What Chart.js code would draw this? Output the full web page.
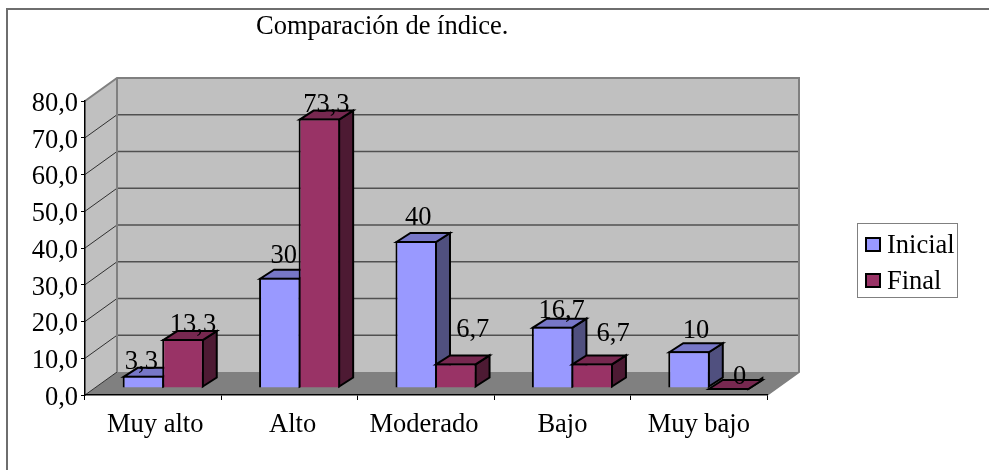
<!DOCTYPE html>
<html lang="es">
<head>
<meta charset="utf-8">
<title>Comparación de índice.</title>
<script src="https://cdn.jsdelivr.net/npm/chart.js@4"></script>
<style>
  html, body { margin: 0; padding: 0; background: #ffffff; }
  canvas { display: block; }
</style>
</head>
<body>
<canvas id="indexChart" width="989" height="470"></canvas>
<script>
const categories = ["Muy alto", "Alto", "Moderado", "Bajo", "Muy bajo"];
const inicialValues = [3.3, 30, 40, 16.7, 10];
const finalValues = [13.3, 73.3, 6.7, 6.7, 0];
const yTickLabels = ["0,0", "10,0", "20,0", "30,0", "40,0", "50,0", "60,0", "70,0", "80,0"];
const chartTitle = "Comparación de índice.";

const fontFamily = "'Liberation Serif', 'Times New Roman', serif";
const fontSize = 26.5;
const textFont = `${fontSize}px ${fontFamily}`;

// the fake 3D look: how far the back wall and the bars are pushed
const wallDepth = { x: 32, y: 23 };
const barShift = { x: 10, y: 7 };
const barDepth = { x: 14, y: 9 };

const seriesShades = [
  { top: "#7777c7", side: "#50507f" },
  { top: "#772850", side: "#4d1a33" }
];

// data labels were moved by hand in the original, so each one has its own nudge
const labelNudges = [
  [[-9, -7], [-3, -15], [-5, -16], [2, -9], [0, -13]],
  [[3, -7], [0, -7], [10, -26], [14, -22], [4, -4]]
];
const xLabelNudges = [2, 3, -2, 0, 0];
const yLabelDrop = 3;

const formatValue = value => String(value).replace(".", ",");

function line(ctx, points, color, width) {
  ctx.beginPath();
  points.forEach(([x, y], i) => i ? ctx.lineTo(x, y) : ctx.moveTo(x, y));
  ctx.strokeStyle = color;
  ctx.lineWidth = width;
  ctx.stroke();
}

function polygon(ctx, points, fill, stroke, width) {
  ctx.beginPath();
  points.forEach(([x, y], i) => i ? ctx.lineTo(x, y) : ctx.moveTo(x, y));
  ctx.closePath();
  ctx.fillStyle = fill;
  ctx.fill();
  if (stroke) {
    ctx.strokeStyle = stroke;
    ctx.lineWidth = width;
    ctx.lineJoin = "miter";
    ctx.stroke();
  }
}

const box3dPlugin = {
  id: "box3d",
  afterLayout(chart) {
    // title sits left of the plot centre in the original
    chart.titleBlock.left = 256;
    chart.titleBlock.right = 520;
    chart.scales.y.getLabelItems().forEach(item => { item.options.translation[1] += yLabelDrop; });
    chart.scales.x.getLabelItems().forEach((item, i) => { item.options.translation[0] += xLabelNudges[i]; });
  },
  beforeDraw(chart) {
    const { ctx, chartArea: area, scales } = chart;
    const dx = wallDepth.x;
    const dy = wallDepth.y;
    ctx.save();

    // sheet edges, only top and left are visible
    line(ctx, [[989, 9], [7, 9], [7, 470]], "#6e6e6e", 2);

    polygon(ctx, [[area.left + dx, area.top - dy], [area.right + dx, area.top - dy],
      [area.right + dx, area.bottom - dy], [area.left + dx, area.bottom - dy]], "#c0c0c0");
    polygon(ctx, [[area.left, area.top], [area.left + dx, area.top - dy],
      [area.left + dx, area.bottom - dy], [area.left, area.bottom]], "#c0c0c0");
    polygon(ctx, [[area.left, area.bottom], [area.left + dx, area.bottom - dy],
      [area.right + dx, area.bottom - dy], [area.right, area.bottom]], "#808080");

    scales.y.ticks.forEach(tick => {
      const y = scales.y.getPixelForValue(tick.value);
      if (tick.value > 0 && tick.value < 80) {
        line(ctx, [[area.left + dx, y - dy], [area.right + dx, y - dy]], "#505050", 1.5);
      }
      if (tick.value < 80) {
        line(ctx, [[area.left, y], [area.left + dx, y - dy]], "#303030", 1);
      }
    });

    line(ctx, [[area.left, area.top], [area.left + dx, area.top - dy], [area.right + dx, area.top - dy],
      [area.right + dx, area.bottom - dy], [area.right, area.bottom]], "#808080", 2);
    line(ctx, [[area.left + dx, area.top - dy], [area.left + dx, area.bottom - dy]], "#808080", 2);
    ctx.restore();
  },
  beforeDatasetsDraw(chart) {
    const { ctx } = chart;
    ctx.save();
    ctx.translate(barShift.x, -barShift.y);

    // Inicial first, so Final covers its side face and its label
    chart.data.datasets.forEach((dataset, datasetIndex) => {
      const bars = chart.getDatasetMeta(datasetIndex).data;
      bars.forEach(bar => {
        const left = bar.x - bar.width / 2 + 1;
        const right = bar.x + bar.width / 2 - 1;
        const top = bar.y + 1;
        const bottom = bar.base - 1;
        const shade = seriesShades[datasetIndex];
        polygon(ctx, [[right, top], [right + barDepth.x, top - barDepth.y],
          [right + barDepth.x, bottom - barDepth.y], [right, bottom]], shade.side, "#000000", 2);
        polygon(ctx, [[left, top], [left + barDepth.x, top - barDepth.y],
          [right + barDepth.x, top - barDepth.y], [right, top]], shade.top, "#000000", 2);
        bar.draw(ctx);
      });
      bars.forEach((bar, i) => {
        const [nudgeX, nudgeY] = labelNudges[datasetIndex][i];
        ctx.font = textFont;
        ctx.fillStyle = "#000000";
        ctx.textAlign = "center";
        ctx.textBaseline = "alphabetic";
        ctx.fillText(formatValue(dataset.data[i]), bar.x + barDepth.x / 2 + nudgeX, bar.y + nudgeY);
      });
    });

    ctx.restore();
    return false;
  },
  afterDraw(chart) {
    const { ctx } = chart;
    ctx.save();
    ctx.strokeStyle = "#808080";
    ctx.lineWidth = 1;
    ctx.strokeRect(857.5, 223.5, 100, 74);
    ctx.font = textFont;
    ctx.textAlign = "left";
    ctx.textBaseline = "alphabetic";
    chart.data.datasets.forEach((dataset, i) => {
      const rowTop = 238 + i * 36;
      ctx.fillStyle = dataset.backgroundColor;
      ctx.fillRect(866, rowTop, 14, 13);
      ctx.strokeStyle = "#000000";
      ctx.lineWidth = 2;
      ctx.strokeRect(866, rowTop, 14, 13);
      ctx.fillStyle = "#000000";
      ctx.fillText(dataset.label, 887, rowTop + 15);
    });
    ctx.restore();
  }
};

new Chart(document.getElementById("indexChart"), {
  type: "bar",
  data: {
    labels: categories,
    datasets: [
      { label: "Inicial", data: inicialValues, backgroundColor: "#9999ff", borderColor: "#000000", borderWidth: 2 },
      { label: "Final", data: finalValues, backgroundColor: "#993366", borderColor: "#000000", borderWidth: 2 }
    ]
  },
  options: {
    responsive: false,
    animation: false,
    categoryPercentage: 0.58,
    barPercentage: 1.05,
    layout: {
      autoPadding: false,
      padding: { left: 0, top: 0, right: 222, bottom: 0 }
    },
    plugins: {
      legend: { display: false },
      tooltip: { enabled: false },
      title: {
        display: true,
        text: chartTitle,
        align: "start",
        color: "#000000",
        font: { family: fontFamily, size: fontSize, weight: "normal" },
        padding: { top: 11, bottom: 58.2 }
      }
    },
    scales: {
      x: {
        afterFit: scale => { scale.height = 75; },
        grid: { drawOnChartArea: false, tickLength: 5, color: "#000000", lineWidth: 1 },
        border: { color: "#000000", width: 1.5 },
        ticks: {
          color: "#000000",
          padding: 9,
          maxRotation: 0,
          autoSkip: false,
          font: { family: fontFamily, size: fontSize }
        }
      },
      y: {
        min: 0,
        max: 80,
        afterFit: scale => { scale.width = 85; },
        grid: { drawOnChartArea: false, tickLength: 4, color: "#000000", lineWidth: 1 },
        border: { color: "#000000", width: 1.5 },
        ticks: {
          stepSize: 10,
          color: "#000000",
          padding: 3,
          font: { family: fontFamily, size: fontSize },
          callback: (value, index) => yTickLabels[index]
        }
      }
    }
  },
  plugins: [box3dPlugin]
});
</script>
</body>
</html>
